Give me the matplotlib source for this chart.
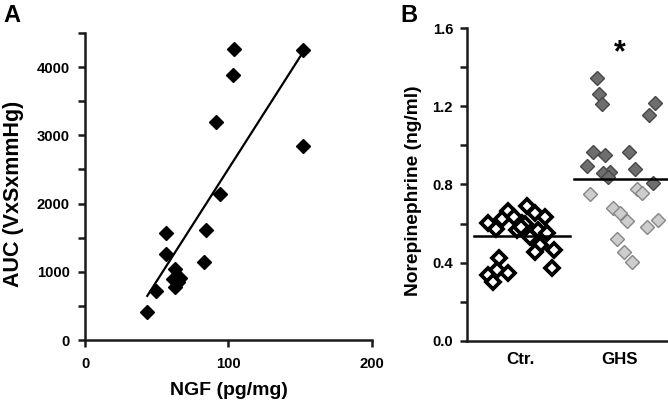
import matplotlib
matplotlib.use("Agg")
import matplotlib.pyplot as plt
import numpy as np
from matplotlib.ticker import MultipleLocator, FormatStrFormatter

plt.rcParams['font.family'] = ['Liberation Sans', 'DejaVu Sans']
plt.rcParams['font.weight'] = 'bold'

# panel A: NGF vs AUC
ngf = [43.4, 49.2, 56.4, 56.4, 62.7, 61.1, 62.7, 66.2, 65.0, 82.9, 84.3, 94.1, 91.0, 102.9, 104.1, 152.1, 152.1]
auc = [416, 720, 1569, 1265, 1040, 893, 784, 907, 850, 1142, 1608, 2142, 3201, 3882, 4265, 4250, 2843]
fit_x = [43.4, 150.3]
fit_y = [647, 4166]

# panel B: norepinephrine
ctr_x = [-0.32, -0.245, -0.124, -0.179, -0.058, 0.068, 0.152, 0.253, 0.017, -0.033, 0.05, 0.10,
         0.185, 0.27, 0.20, 0.152, 0.346, 0.32, -0.21, -0.235, -0.32, -0.27, -0.124, 0.05, 0.01]
ctr_y = [0.602, 0.571, 0.665, 0.625, 0.632, 0.690, 0.653, 0.632, 0.602, 0.567, 0.567, 0.533,
         0.567, 0.551, 0.491, 0.457, 0.465, 0.372, 0.423, 0.363, 0.337, 0.300, 0.346, 0.600, 0.585]
ghs_dark_x = [-0.23, -0.21, -0.18, -0.27, -0.15, -0.33, -0.09, -0.165, -0.11, 0.10, 0.16, 0.30, 0.36, 0.34]
ghs_dark_y = [1.343, 1.263, 1.212, 0.965, 0.951, 0.895, 0.866, 0.857, 0.840, 0.968, 0.878, 1.155, 1.218, 0.806]
ghs_light_x = [-0.30, -0.06, 0.01, 0.08, -0.02, 0.05, 0.13, 0.18, 0.23, 0.28, 0.39]
ghs_light_y = [0.750, 0.680, 0.655, 0.615, 0.522, 0.454, 0.402, 0.778, 0.755, 0.584, 0.620]
means = [0.537, 0.828]
groups = ['Ctr.', 'GHS']

fig = plt.figure(figsize=(6.68, 4.07), dpi=100)

spine_c = '#1a1a1a'

# ---- A ----
ax = fig.add_axes([85/668, 67/407, 287/668, 307/407])
ax.plot(ngf, auc, 'D', color='black', ms=7.3, mec='black')
ax.plot(fit_x, fit_y, '-', color='black', lw=1.6)
ax.set_xlim(0, 200)
ax.set_ylim(0, 4500)
ax.xaxis.set_major_locator(MultipleLocator(100))
ax.yaxis.set_major_locator(MultipleLocator(1000))
ax.yaxis.set_minor_locator(MultipleLocator(500))
ax.spines['top'].set_visible(False)
ax.spines['right'].set_visible(False)
for s in ['left', 'bottom']:
    ax.spines[s].set_linewidth(1.8)
    ax.spines[s].set_color(spine_c)
ax.tick_params(which='both', direction='out', length=5, width=1.8, color=spine_c)
ax.tick_params(axis='y', pad=6, labelsize=10.7)
ax.tick_params(axis='x', pad=7, labelsize=10.7)
ax.set_xlabel('NGF (pg/mg)', fontsize=14, fontweight='bold', labelpad=8)
ax.set_ylabel('AUC (VxSxmmHg)', fontsize=15.5, fontweight='bold')
ax.yaxis.set_label_coords(-0.212, 0.475)
for lab in ax.get_xticklabels() + ax.get_yticklabels():
    lab.set_fontweight('bold')
fig.text(3/668, 1 - 22/407, 'A', fontsize=17, fontweight='bold')

# ---- B ----
bx = fig.add_axes([467/668, 66/407, 210/668, 313/407])
pos = [1, 2]
bx.plot(pos[0] + np.array(ctr_x), ctr_y, 'D', ms=7.4, mfc='white', mec='black', mew=2.7)
bx.plot(pos[1] + np.array(ghs_dark_x), ghs_dark_y, 'D', ms=7.0, mfc='#6e6e6e', mec='#474747', mew=1.0)
bx.plot(pos[1] + np.array(ghs_light_x), ghs_light_y, 'D', ms=7.0, mfc='#cdcdcd', mec='#858585', mew=1.0)
for p, m in zip(pos, means):
    bx.plot([p - 0.46, p + 0.5], [m, m], '-', color='black', lw=1.8)
bx.text(pos[1], 1.47, '*', ha='center', va='center', fontsize=22, fontweight='bold')
bx.set_xlim(0.465, 2.58)
bx.set_ylim(0, 1.6)
bx.set_xticks(pos)
bx.set_xticklabels(groups)
bx.yaxis.set_major_locator(MultipleLocator(0.4))
bx.yaxis.set_minor_locator(MultipleLocator(0.2))
bx.yaxis.set_major_formatter(FormatStrFormatter('%.1f'))
bx.spines['top'].set_visible(False)
bx.spines['right'].set_visible(False)
for s in ['left', 'bottom']:
    bx.spines[s].set_linewidth(1.8)
    bx.spines[s].set_color(spine_c)
bx.tick_params(which='both', direction='out', length=5, width=1.8, color=spine_c)
bx.tick_params(axis='x', length=0, pad=8, labelsize=12.2)
bx.tick_params(axis='y', pad=5, labelsize=10.7)
bx.set_ylabel('Norepinephrine (ng/ml)', fontsize=13.8, fontweight='bold')
bx.yaxis.set_label_coords(-0.212, 0.48)
for lab in bx.get_xticklabels() + bx.get_yticklabels():
    lab.set_fontweight('bold')
fig.text(400/668, 1 - 22/407, 'B', fontsize=17, fontweight='bold')

fig.savefig('out.png', dpi=100)
